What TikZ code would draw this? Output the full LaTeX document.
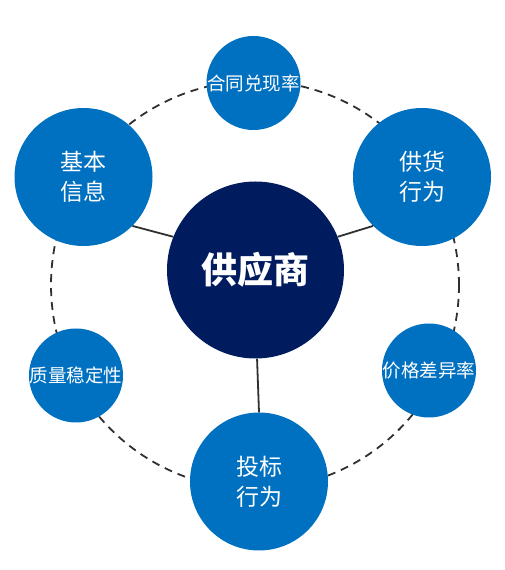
\documentclass[tikz,border=0pt]{standalone}
\usepackage{fontspec}
\newfontfamily\cjk{Noto Sans CJK SC}
\definecolor{itemblue}{HTML}{0070C0}
\definecolor{hubnavy}{HTML}{001C5F}
\definecolor{linegray}{HTML}{303030}

\begin{document}
\begin{tikzpicture}[x=1pt, y=1pt,
  bigitem/.style={shape=circle, fill=itemblue, text=white, minimum size=138pt, inner sep=0pt, align=center, font=\cjk\fontsize{23}{30}\selectfont},
  smallitem/.style={shape=circle, fill=itemblue, text=white, minimum size=94pt, inner sep=0pt, font=\cjk\fontsize{18.5}{22}\selectfont},
  orbit/.style={draw=linegray, line width=1.8pt, dash pattern=on 8pt off 6pt},
  link/.style={draw=linegray, line width=1.8pt}]
\useasboundingbox (0,0) rectangle (504,570);
%\draw[help lines] (0,0) grid[step=50] (504,570);
\coordinate (ring) at (255,285);
\draw[orbit] (ring) circle (204);
\node[shape=circle, fill=hubnavy, text=white, minimum size=177pt, inner sep=0pt, font=\cjk\bfseries\fontsize{36}{40}\selectfont] (sup) at (255.5,300) {供应商};
\node[smallitem, above of=sup, node distance=187pt, xshift=-2pt] (contract) {\makebox[0pt]{合同兑现率}};
\node[bigitem, above of=sup, node distance=93pt, xshift=-172pt] (basic) {基本\\信息};
\node[bigitem, above of=sup, node distance=93pt, xshift=166.5pt] (supply) {供货\\行为};
\node[smallitem, below of=sup, node distance=105.5pt, xshift=-179.5pt] (quality) {\makebox[0pt]{质量稳定性}};
\node[smallitem, below of=sup, node distance=100.5pt, xshift=173.5pt] (price) {\makebox[0pt]{价格差异率}};
\node[bigitem, below of=sup, node distance=211.5pt, xshift=3.5pt] (bid) {投标\\行为};
\draw[link] (sup.158) -- (basic.-45);
\draw[link] (sup.22) -- (supply.-135);
\draw[link] (sup.-89) -- (bid.north);
\end{tikzpicture}
\end{document}
